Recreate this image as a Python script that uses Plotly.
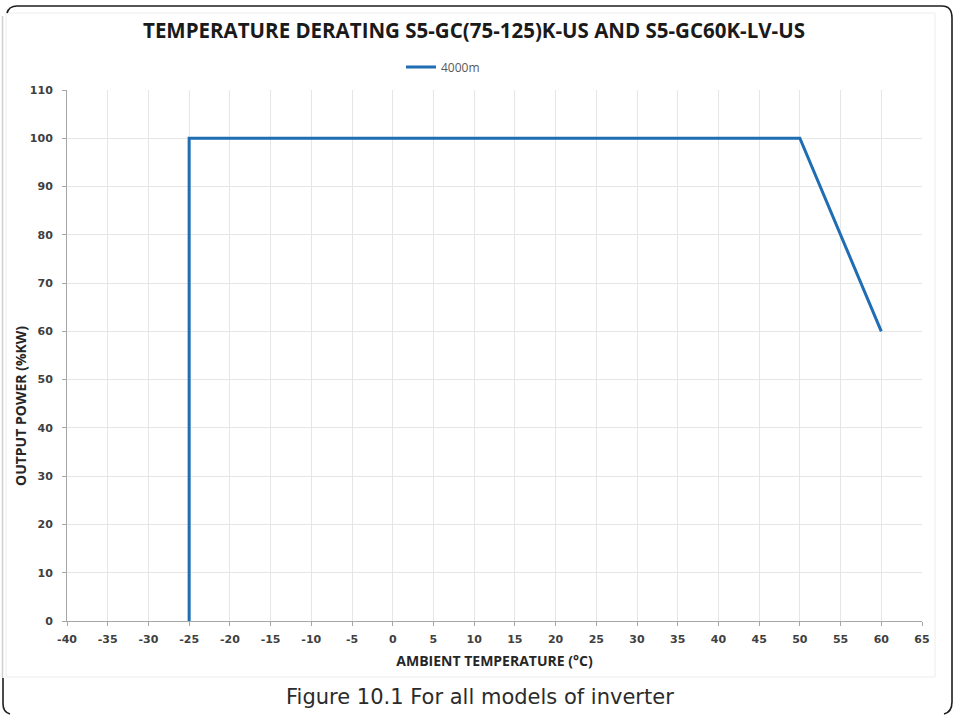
import plotly.graph_objects as go

# Data
temperature_c = [-25, -25, 50, 60]
output_power_pct = [0, 100, 100, 60]
series_name = "4000m"
x_ticks = list(range(-40, 70, 5))
y_ticks = list(range(0, 120, 10))

W, H = 955, 715
L, R, T, B = 67, 33, 90, 94
PW, PH = W - L - R, H - T - B

def px(x):
    return (x - L) / PW

def py(y):
    return 1 - (y - T) / PH

fig = go.Figure()
fig.add_trace(go.Scatter(
    x=temperature_c, y=output_power_pct, mode="lines", name=series_name,
    line=dict(color="#1f6db3", width=3),
))

FONT = "'Open Sans', Lato, sans-serif"
TICKFONT = "'DejaVu Sans', sans-serif"

fig.update_layout(
    width=W, height=H,
    margin=dict(l=L, r=R, t=T, b=B),
    paper_bgcolor="white", plot_bgcolor="white",
    title=dict(text="<b>TEMPERATURE DERATING S5-GC(75-125)K-US AND S5-GC60K-LV-US</b>",
               xref="container", x=474 / W, xanchor="center",
               yref="container", y=1 - 31 / H, yanchor="middle",
               font=dict(family=FONT, size=20.5, color="#1a1a1a")),
    showlegend=True,
    legend=dict(orientation="h", x=px(401), xanchor="left", y=py(67), yanchor="middle",
                font=dict(family=FONT, size=12, color="#595959"),
                bgcolor="rgba(0,0,0,0)", itemwidth=30),
    xaxis=dict(range=[-40, 65], tickvals=x_ticks, ticktext=[str(v) for v in x_ticks],
               showgrid=True, gridcolor="#e6e6e6", gridwidth=1,
               showline=True, linecolor="#a6a6a6", linewidth=1,
               ticks="outside", ticklen=4, tickcolor="#a6a6a6", ticklabelstandoff=4,
               tickfont=dict(family=TICKFONT, size=11, color="#404040", weight="bold"),
               title=dict(text="AMBIENT TEMPERATURE (°C)", standoff=10,
                          font=dict(family=FONT, size=14, color="#262626", weight="bold")),
               zeroline=False, fixedrange=True),
    yaxis=dict(range=[0, 110], tickvals=y_ticks, ticktext=[str(v) for v in y_ticks],
               showgrid=True, gridcolor="#e6e6e6", gridwidth=1,
               showline=True, linecolor="#a6a6a6", linewidth=1,
               ticks="outside", ticklen=4, tickcolor="#a6a6a6", ticklabelstandoff=7,
               tickfont=dict(family=TICKFONT, size=11, color="#404040", weight="bold"),
               zeroline=False, fixedrange=True),
)

# y-axis title as an annotation placed where the reference has it
fig.add_annotation(text="<b>OUTPUT POWER (%KW)</b>", xref="paper", yref="paper",
                   x=px(20), y=py(406), xanchor="center", yanchor="middle",
                   textangle=-90, showarrow=False,
                   font=dict(family=FONT, size=14, color="#262626"))

def P(x, y):
    return f"{px(x):.5f},{py(y):.5f}"

shapes = []
shapes.append(dict(type="rect", xref="paper", yref="paper", layer="below",
                   x0=px(6), x1=px(935), y0=py(677), y1=py(13),
                   line=dict(color="#ececec", width=1), fillcolor="rgba(0,0,0,0)"))
shapes.append(dict(type="line", xref="paper", yref="paper",
                   x0=px(2.5), x1=px(2.5), y0=py(16), y1=py(678),
                   line=dict(color="#d0d0d0", width=1.5)))
path_top = (f"M {P(7,13)} Q {P(9,6)} {P(17,6)} L {P(942,6)} Q {P(952,6)} {P(952,18)} "
            f"L {P(952,702)} Q {P(952,712)} {P(944,714)}")
shapes.append(dict(type="path", xref="paper", yref="paper", path=path_top,
                   line=dict(color="#1e1e1e", width=1.6)))
path_bl = f"M {P(3,678)} L {P(3,704)} Q {P(3,712)} {P(10,714)}"
shapes.append(dict(type="path", xref="paper", yref="paper", path=path_bl,
                   line=dict(color="#1e1e1e", width=1.6)))
fig.update_layout(shapes=shapes)

fig.add_annotation(text="Figure 10.1 For all models of inverter", xref="paper", yref="paper",
                   x=px(480), y=py(697), xanchor="center", yanchor="middle", showarrow=False,
                   font=dict(family="'DejaVu Sans', sans-serif", size=21, color="#2b2b2b"))

fig.write_html("out.html", config={"displayModeBar": False},
               post_script="document.body.style.margin='0';")
